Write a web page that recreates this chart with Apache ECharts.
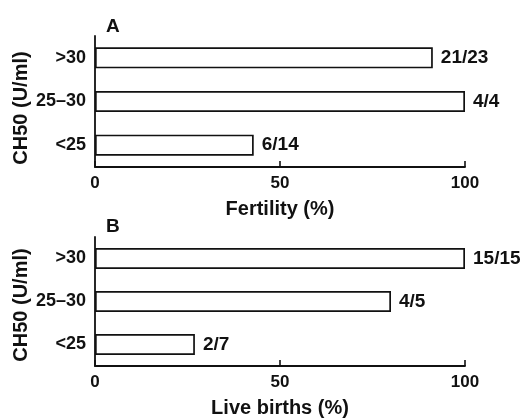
<!DOCTYPE html>
<html><head><meta charset="utf-8">
<script src="https://cdn.jsdelivr.net/npm/echarts@6/dist/echarts.min.js"></script>
<style>html,body{margin:0;padding:0;background:#fff}#c{width:520px;height:418px}</style>
</head><body><div id="c"></div>
<script>
const categories = ['<25', '25\u201330', '>30'];
const fertilityValues = [42.9, 100, 91.3];
const fertilityLabels = ['6/14', '4/4', '21/23'];
const liveBirthValues = [27, 80, 100];
const liveBirthLabels = ['2/7', '4/5', '15/15'];
const xTicks = [0, 50, 100];

const FONT = 'Liberation Sans';
const INK = '#111';
const chart = echarts.init(document.getElementById('c'), null, {renderer: 'canvas'});

function xAx(idx, name) {
  return {
    type: 'value', gridIndex: idx, min: 0, max: 100, interval: 50,
    name: name, nameLocation: 'middle', nameGap: 32, nameMoveOverlap: false,
    nameTextStyle: {fontFamily: FONT, fontSize: 20, fontWeight: 'bold', color: INK},
    axisLine: {show: true, lineStyle: {color: INK, width: 1.8}},
    axisTick: {show: true, inside: true, length: 6, lineStyle: {color: INK, width: 1.6}},
    axisLabel: {margin: 8, fontFamily: FONT, fontSize: 17, fontWeight: 'bold', color: INK,
      formatter: v => xTicks.includes(v) ? String(v) : ''},
    splitLine: {show: false}
  };
}
function yAx(idx, shift) {
  return {
    type: 'category', gridIndex: idx, data: categories,
    name: 'CH50 (U/ml)', nameLocation: 'middle', nameGap: 64, nameRotate: 90, nameMoveOverlap: false,
    nameTextStyle: {fontFamily: FONT, fontSize: 20, fontWeight: 'bold', color: INK, padding: [0, shift, 0, 0]},
    axisLine: {show: true, lineStyle: {color: INK, width: 1.8}},
    axisTick: {show: false},
    axisLabel: {margin: 9, fontFamily: FONT, fontSize: 18, fontWeight: 'bold', color: INK},
    splitLine: {show: false}
  };
}
function barSeries(idx, vals, labs) {
  return {
    type: 'bar', xAxisIndex: idx, yAxisIndex: idx, data: vals, barWidth: 21,
    itemStyle: {color: '#fff', borderColor: INK, borderWidth: 1.7},
    label: {show: true, position: 'right', distance: 8, fontFamily: FONT, fontSize: 19, fontWeight: 'bold', color: INK,
      formatter: p => labs[p.dataIndex]},
    silent: true, animation: false
  };
}

chart.setOption({
  animation: false,
  backgroundColor: '#fff',
  title: [
    {text: 'A', left: 101, top: 12, textStyle: {fontFamily: FONT, fontSize: 19, fontWeight: 'bold', color: INK}},
    {text: 'B', left: 101, top: 212, textStyle: {fontFamily: FONT, fontSize: 19, fontWeight: 'bold', color: INK}}
  ],
  grid: [
    {left: 95, width: 370, top: 36, height: 131, containLabel: false, outerBoundsMode: 'none'},
    {left: 95, width: 370, top: 237, height: 129, containLabel: false, outerBoundsMode: 'none'}
  ],
  xAxis: [xAx(0, 'Fertility (%)'), xAx(1, 'Live births (%)')],
  yAxis: [yAx(0, 13), yAx(1, 7)],
  series: [barSeries(0, fertilityValues, fertilityLabels), barSeries(1, liveBirthValues, liveBirthLabels)]
});
</script></body></html>
